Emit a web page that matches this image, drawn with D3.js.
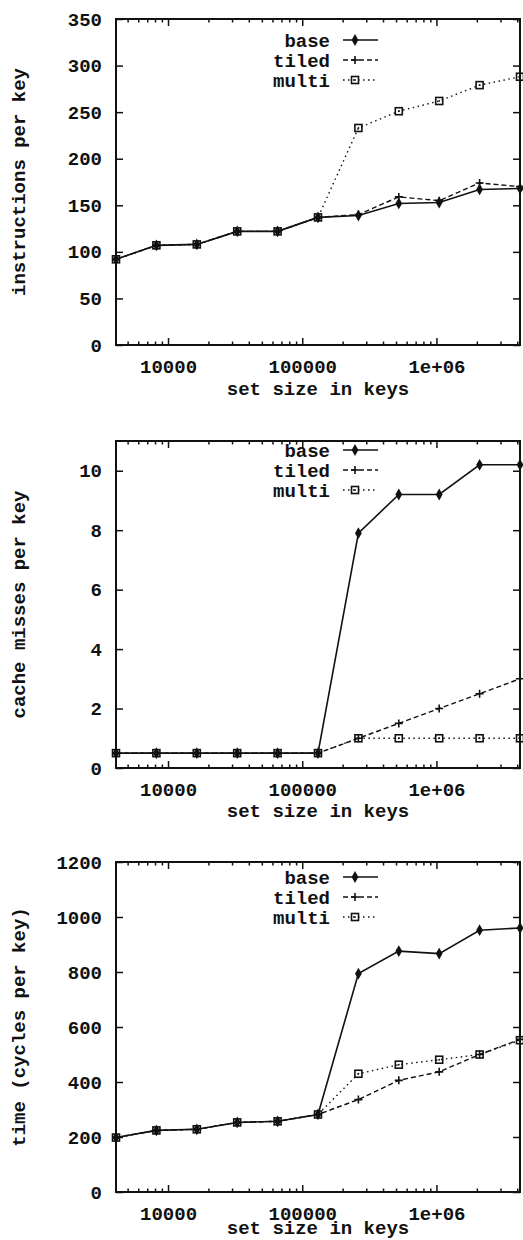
<!DOCTYPE html>
<html>
<head>
<meta charset="utf-8">
<script src="https://cdn.jsdelivr.net/npm/d3@7"></script>
<style>
  body { margin: 0; background: #fff; }
  text { font-family: "Liberation Mono", "DejaVu Sans Mono", monospace; font-size: 19px; font-weight: bold; fill: #111; }
</style>
</head>
<body>
<div class="canva"></div>
<script>
// set sizes: 2^12 .. 2^22 keys
const sizes = [4096, 8192, 16384, 32768, 65536, 131072, 262144, 524288, 1048576, 2097152, 4194304];
const seriesNames = ["base", "tiled", "multi"];

const instrBase  = [92, 107, 108, 122, 122, 137, 139, 152, 153, 167, 168];
const instrTiled = [92, 107, 108, 122, 122, 137, 140, 159, 155, 174, 170];
const instrMulti = [92, 107, 108, 122, 122, 137, 233, 251, 262, 279, 288];

const missBase  = [0.5, 0.5, 0.5, 0.5, 0.5, 0.5, 7.9, 9.2, 9.2, 10.2, 10.2];
const missTiled = [0.5, 0.5, 0.5, 0.5, 0.5, 0.5, 1.0, 1.5, 2.0, 2.5, 3.0];
const missMulti = [0.5, 0.5, 0.5, 0.5, 0.5, 0.5, 1.0, 1.0, 1.0, 1.0, 1.0];

const timeBase  = [198, 224, 228, 253, 257, 282, 794, 876, 867, 952, 960];
const timeTiled = [198, 224, 228, 253, 257, 282, 336, 406, 437, 500, 555];
const timeMulti = [198, 224, 228, 253, 257, 282, 430, 463, 481, 500, 552];

const xTickValues = [10000, 100000, 1000000];
const xTickLabels = ["10000", "100000", "1e+06"];

const instrTicks = [0, 50, 100, 150, 200, 250, 300, 350];
const missTicks  = [0, 2, 4, 6, 8, 10];
const timeTicks  = [0, 200, 400, 600, 800, 1000, 1200];

const panels = [
  { top: 19,  bottom: 345,  ymax: 350,  ticks: instrTicks, label: "instructions per key",
    series: [instrBase, instrTiled, instrMulti], legendY: 40, titleY: 395 },
  { top: 441, bottom: 768,  ymax: 11,   ticks: missTicks,  label: "cache misses per key",
    series: [missBase, missTiled, missMulti], legendY: 450, titleY: 817 },
  { top: 862, bottom: 1192, ymax: 1200, ticks: timeTicks,  label: "time (cycles per key)",
    series: [timeBase, timeTiled, timeMulti], legendY: 877, titleY: 1234 }
];

const left = 116, right = 520;
const dashes = [null, "5,3", "1.5,3.5"];

const svg = d3.select(".canva").append("svg")
    .attr("width", 523)
    .attr("height", 1240);

const x = d3.scaleLog().domain([4096, 4194304]).range([left, right]);

// minor ticks 2..9 x 10^k inside the domain
const minorTicks = [];
[1000, 10000, 100000, 1000000].forEach(p => {
  for (let m = 2; m <= 9; m++) {
    const v = m * p;
    if (v > 4096 && v < 4194304) minorTicks.push(v);
  }
});

function drawMarker(g, type, cx, cy) {
  if (type === 0) {
    g.append("path")
      .attr("d", d3.symbol().type(d3.symbolDiamond).size(40)())
      .attr("transform", `translate(${cx},${cy})`)
      .attr("fill", "#111");
  } else if (type === 1) {
    g.append("path")
      .attr("d", `M${cx - 4},${cy}H${cx + 4}M${cx},${cy - 4}V${cy + 4}`)
      .attr("stroke", "#111").attr("stroke-width", 1.6);
  } else {
    g.append("rect")
      .attr("x", cx - 3.5).attr("y", cy - 3.5)
      .attr("width", 7).attr("height", 7)
      .attr("fill", "none").attr("stroke", "#111").attr("stroke-width", 1.6);
    g.append("circle").attr("cx", cx).attr("cy", cy).attr("r", 0.9).attr("fill", "#111");
  }
}

panels.forEach(p => {
  const y = d3.scaleLinear().domain([0, p.ymax]).range([p.bottom, p.top]);
  const g = svg.append("g");

  // axes with inward ticks
  g.append("g").attr("transform", `translate(${left},0)`)
    .call(d3.axisLeft(y).tickValues(p.ticks).tickSize(-7).tickSizeOuter(0)
      .tickFormat(d3.format("d")).tickPadding(14));
  g.append("g").attr("transform", `translate(${right},0)`)
    .call(d3.axisRight(y).tickValues(p.ticks).tickSize(-7).tickSizeOuter(0).tickFormat(""));
  g.append("g").attr("transform", `translate(0,${p.bottom})`)
    .call(d3.axisBottom(x).tickValues(xTickValues).tickSize(-7).tickSizeOuter(0)
      .tickFormat((d, i) => xTickLabels[i]).tickPadding(15));
  g.append("g").attr("transform", `translate(0,${p.top})`)
    .call(d3.axisTop(x).tickValues(xTickValues).tickSize(-7).tickSizeOuter(0).tickFormat(""));
  g.append("g").attr("transform", `translate(0,${p.bottom})`)
    .call(d3.axisBottom(x).tickValues(minorTicks).tickSize(-3.5).tickSizeOuter(0).tickFormat(""));
  g.append("g").attr("transform", `translate(0,${p.top})`)
    .call(d3.axisTop(x).tickValues(minorTicks).tickSize(-3.5).tickSizeOuter(0).tickFormat(""));

  g.selectAll(".domain").remove();
  g.selectAll(".tick line").attr("stroke", "#111").attr("stroke-width", 1.5);
  g.selectAll(".tick text").style("font-size", "19px").attr("fill", "#111");

  // border box
  g.append("rect")
    .attr("x", left).attr("y", p.top)
    .attr("width", right - left).attr("height", p.bottom - p.top)
    .attr("fill", "none").attr("stroke", "#111").attr("stroke-width", 2);

  // lines
  const line = d3.line().x((d, i) => x(sizes[i])).y(d => y(d));
  p.series.forEach((s, k) => {
    g.append("path")
      .datum(s)
      .attr("d", line)
      .attr("fill", "none")
      .attr("stroke", "#111")
      .attr("stroke-width", k === 0 ? 1.6 : 1.4)
      .attr("stroke-dasharray", dashes[k]);
  });
  p.series.forEach((s, k) => {
    s.forEach((v, i) => drawMarker(g, k, x(sizes[i]), y(v)));
  });

  // legend
  seriesNames.forEach((name, k) => {
    const ly = p.legendY + k * 20;
    g.append("text")
      .attr("x", 330).attr("y", ly).attr("dy", "0.35em")
      .attr("text-anchor", "end")
      .text(name);
    g.append("line")
      .attr("x1", 343).attr("x2", 378).attr("y1", ly).attr("y2", ly)
      .attr("stroke", "#111").attr("stroke-width", k === 0 ? 1.6 : 1.4)
      .attr("stroke-dasharray", dashes[k]);
    drawMarker(g, k, 355, ly);
  });

  // axis titles
  g.append("text")
    .attr("x", (left + right) / 2).attr("y", p.titleY)
    .attr("text-anchor", "middle")
    .text("set size in keys");
  g.append("text")
    .attr("transform", `translate(18,${(p.top + p.bottom) / 2}) rotate(-90)`)
    .attr("text-anchor", "middle")
    .attr("dy", "0.35em")
    .text(p.label);
});
</script>
</body>
</html>
